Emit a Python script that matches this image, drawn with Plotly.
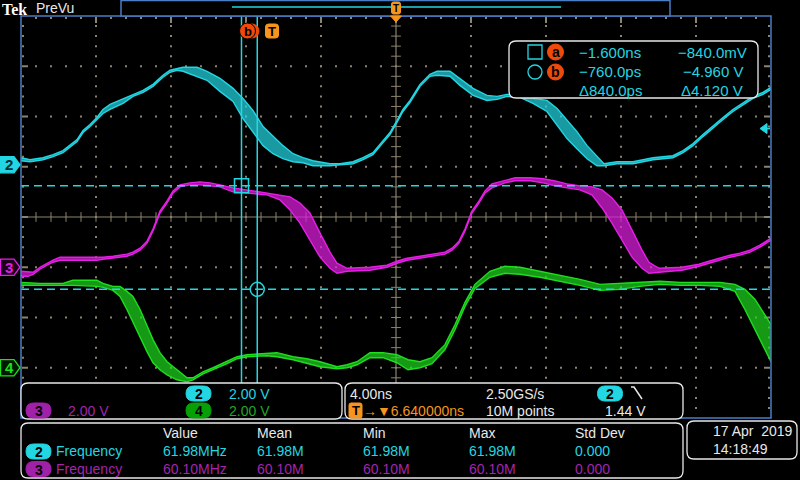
import numpy as np
import plotly.graph_objects as go

# ---------------- data ----------------
time_per_div_ns = 4.0
trigger_pos_ns = 6.64
volts_per_div = {2: 2.0, 3: 2.0, 4: 2.0}
ch_offset_div = {2: 1.04, 3: -1.0, 4: -3.0}
trig_level_v = 1.44
cursor_t_ns = [-1.6, -0.76]
cursor_v = [-0.84, -4.96]

ch2_t = [-13.36, -12.88, -12.19, -11.65, -11.12, -10.75, -10.37, -10.05, -9.68, -9.31, -8.99, -8.61, -8.24, -7.92,
         -7.39, -6.85, -6.32, -5.79, -5.41, -5.04, -4.72, -3.97, -3.44, -2.75, -2.05, -1.52, -0.99, -0.45, 0.08,
         0.61, 1.15, 1.68, 2.21, 3.12, 3.65, 4.35, 4.88, 5.41, 5.95, 6.32, 6.69, 7.01, 7.39, 7.92, 8.45, 8.83,
         9.52, 10.05, 10.75, 11.49, 12.03, 12.56, 13.25, 13.95, 14.69, 15.23, 15.76, 16.29, 16.83, 17.36, 17.73,
         18.43, 19.28, 20.35, 21.41, 21.95, 22.48, 23.01, 23.55, 24.08, 24.61, 25.15, 25.68, 26.21, 26.64]
ch2_hi = [0.28, 0.20, 0.28, 0.40, 0.56, 0.76, 1.00, 1.36, 1.60, 1.88, 2.20, 2.40, 2.52, 2.60,
          2.80, 2.96, 3.20, 3.56, 3.76, 3.84, 3.88, 3.88, 3.72, 3.44, 3.04, 2.64, 2.16, 1.52, 1.12,
          0.76, 0.44, 0.28, 0.16, 0.04, 0.04, 0.12, 0.28, 0.48, 0.96, 1.28, 1.76, 2.20, 2.56, 3.20, 3.60, 3.72,
          3.72, 3.44, 3.04, 2.76, 2.72, 2.80, 2.80, 2.64, 2.56, 2.24, 1.76, 1.32, 0.76, 0.32, 0.04,
          0.12, 0.12, 0.28, 0.36, 0.56, 0.84, 1.20, 1.56, 1.88, 2.20, 2.48, 2.72, 2.88, 3.08]
ch2_lo = [0.16, 0.12, 0.20, 0.32, 0.48, 0.68, 0.92, 1.28, 1.52, 1.80, 2.04, 2.20, 2.32, 2.44,
          2.72, 2.88, 3.12, 3.48, 3.68, 3.76, 3.72, 3.52, 3.36, 2.92, 2.52, 1.84, 1.32, 0.76, 0.44,
          0.24, 0.12, 0.08, -0.04, -0.04, 0.00, 0.04, 0.20, 0.40, 0.88, 1.20, 1.68, 2.12, 2.48, 3.12, 3.52, 3.56,
          3.52, 3.16, 2.76, 2.56, 2.60, 2.72, 2.68, 2.44, 2.12, 1.56, 1.04, 0.64, 0.24, -0.04, -0.04,
          0.04, 0.04, 0.20, 0.28, 0.48, 0.76, 1.12, 1.48, 1.80, 2.12, 2.40, 2.64, 2.80, 3.00]

ch3_t = [-13.36, -12.99, -12.72, -12.35, -11.97, -11.65, -11.28, -10.21, -9.31, -8.99, -8.45, -7.71, -7.39, -7.01,
         -6.64, -6.32, -6.11, -5.95, -5.57, -5.25, -4.88, -4.35, -3.81, -3.28, -2.75, -2.05, -0.99, -0.24, 0.45,
         0.99, 1.52, 2.05, 2.59, 3.12, 3.49, 4.03, 5.25, 6.16, 6.69, 7.23, 7.92, 8.72, 9.25, 9.63, 10.00, 10.32,
         10.53, 10.69, 11.07, 11.39, 11.76, 12.45, 12.99, 13.79, 14.48, 15.12, 15.76, 16.45, 17.09, 17.63, 18.16,
         18.69, 19.23, 19.76, 20.13, 20.67, 21.89, 22.80, 23.33, 23.87, 24.45, 24.99, 25.52, 26.05, 26.64]
ch3_hi = [-0.16, -0.20, -0.20, 0.00, 0.16, 0.28, 0.40, 0.40, 0.40, 0.40, 0.44, 0.52, 0.60, 0.76,
          1.04, 1.52, 1.92, 2.24, 2.64, 3.04, 3.28, 3.36, 3.40, 3.36, 3.28, 3.16, 3.04, 2.96, 2.88,
          2.80, 2.56, 2.16, 1.36, 0.60, 0.16, -0.04, 0.00, 0.08, 0.24, 0.36, 0.44, 0.52, 0.60, 0.76, 1.04, 1.52,
          1.92, 2.24, 2.64, 3.04, 3.32, 3.44, 3.56, 3.56, 3.52, 3.44, 3.32, 3.24, 3.20, 3.08, 2.76,
          2.28, 1.48, 0.68, 0.20, -0.04, 0.00, 0.12, 0.24, 0.36, 0.48, 0.56, 0.68, 0.88, 1.16]
ch3_lo = [-0.36, -0.36, -0.28, -0.08, 0.08, 0.20, 0.28, 0.28, 0.28, 0.32, 0.36, 0.44, 0.52, 0.68,
          0.96, 1.44, 1.84, 2.16, 2.56, 2.96, 3.20, 3.28, 3.28, 3.24, 3.20, 3.00, 2.92, 2.88, 2.68,
          2.28, 1.76, 1.08, 0.40, -0.04, -0.24, -0.16, -0.12, 0.00, 0.16, 0.28, 0.36, 0.44, 0.52, 0.68, 0.96, 1.44,
          1.84, 2.16, 2.56, 2.96, 3.16, 3.36, 3.44, 3.44, 3.36, 3.24, 3.16, 3.08, 2.88, 2.36, 1.76,
          1.08, 0.40, -0.04, -0.24, -0.20, -0.12, 0.04, 0.16, 0.28, 0.40, 0.48, 0.60, 0.80, 1.08]

ch4_t = [-13.36, -12.35, -11.12, -10.59, -9.31, -8.99, -8.45, -8.08, -7.71, -7.39, -7.01, -6.64, -6.32, -5.95,
         -5.57, -5.04, -4.51, -4.19, -3.65, -3.12, -2.37, -1.84, -1.31, -0.24, 0.29, 1.15, 1.89, 2.59, 3.49,
         4.03, 4.56, 5.25, 5.95, 6.69, 7.28, 7.92, 8.56, 9.25, 9.79, 10.32, 10.85, 11.65, 12.45, 13.25, 14.32,
         15.39, 16.45, 17.52, 18.59, 19.65, 20.72, 21.79, 22.85, 23.92, 24.72, 25.25, 25.79, 26.32, 26.64]
ch4_hi = [3.40, 3.36, 3.36, 3.48, 3.48, 3.36, 3.24, 3.24, 3.04, 2.84, 2.32, 1.64, 1.12, 0.60,
          0.24, -0.08, -0.40, -0.40, -0.16, 0.00, 0.24, 0.44, 0.52, 0.56, 0.60, 0.44, 0.36, 0.24, 0.04,
          0.12, 0.24, 0.60, 0.60, 0.52, 0.32, 0.24, 0.40, 0.92, 1.72, 2.60, 3.32, 3.84, 4.04, 4.00, 3.84,
          3.68, 3.52, 3.32, 3.36, 3.40, 3.44, 3.40, 3.40, 3.40, 3.32, 3.12, 2.72, 2.12, 1.72]
ch4_lo = [3.28, 3.28, 3.28, 3.28, 3.24, 3.20, 3.08, 2.84, 2.32, 1.80, 1.24, 0.64, 0.20, -0.08,
          -0.28, -0.48, -0.56, -0.48, -0.24, -0.08, 0.16, 0.36, 0.44, 0.48, 0.44, 0.32, 0.16, 0.04, -0.04,
          0.00, 0.12, 0.40, 0.40, 0.20, -0.08, 0.00, 0.16, 0.72, 1.52, 2.44, 3.16, 3.60, 3.76, 3.72, 3.60,
          3.44, 3.28, 3.08, 3.12, 3.24, 3.32, 3.28, 3.28, 3.24, 3.04, 2.32, 1.52, 0.72, 0.24]

meas_headers = ["Value", "Mean", "Min", "Max", "Std Dev"]
meas_ch2 = ["61.98MHz", "61.98M", "61.98M", "61.98M", "0.000"]
meas_ch3 = ["60.10MHz", "60.10M", "60.10M", "60.10M", "0.000"]
meas_name = "Frequency"
cursor_text = [["\u22121.600ns", "\u2212840.0mV"], ["\u2212760.0ps", "\u22124.960 V"], ["\u0394840.0ps", "\u03944.120 V"]]
date_text = "17 Apr\u00a0\u00a02019"
time_text = "14:18:49"

# ---------------- style ----------------
CYAN = "#22d6e2"
CYAN_FILL = "rgba(34,214,226,0.72)"
MAG = "#e61ee6"
MAG_FILL = "rgba(222,30,222,0.72)"
MAG_TXT = "#a424b0"
GRN = "#1ede1e"
GRN_FILL = "rgba(30,214,30,0.72)"
GRN_TXT = "#22a822"
GRN_PILL = "#06a006"
ORANGE = "#f7941d"
REDOR = "#f04a0a"
BLUE = "#4a7ec4"
TAN = "#8e836c"
WHITE = "#e8e8e8"
FONT = "Liberation Sans, Arial, sans-serif"

L, R, T, B = 21, 771, 16, 418
xmin = trigger_pos_ns - 5 * time_per_div_ns
xmax = trigger_pos_ns + 5 * time_per_div_ns


def X(px):
    return (px - L) / (R - L)


def Y(py):
    return (B - py) / (B - T)


def rrect(x0, y0, x1, y1, r):
    return (f"M {X(x0 + r)},{Y(y0)} L {X(x1 - r)},{Y(y0)} Q {X(x1)},{Y(y0)} {X(x1)},{Y(y0 + r)} "
            f"L {X(x1)},{Y(y1 - r)} Q {X(x1)},{Y(y1)} {X(x1 - r)},{Y(y1)} L {X(x0 + r)},{Y(y1)} "
            f"Q {X(x0)},{Y(y1)} {X(x0)},{Y(y1 - r)} L {X(x0)},{Y(y0 + r)} Q {X(x0)},{Y(y0)} {X(x0 + r)},{Y(y0)} Z")


shapes = []
annotations = []


def box(x0, y0, x1, y1, r=6, line=WHITE, fill="#000000", width=1.3):
    shapes.append(dict(type="path", xref="paper", yref="paper", path=rrect(x0, y0, x1, y1, r),
                       line=dict(color=line, width=width), fillcolor=fill, layer="above"))


def txt(s, x, y, color=WHITE, size=14, anchor="left", family=FONT, xref="paper", yref="paper"):
    annotations.append(dict(text=s, x=X(x) if xref == "paper" else x, y=Y(y) if yref == "paper" else y,
                            xref=xref, yref=yref, xanchor=anchor, yanchor="middle", showarrow=False,
                            font=dict(color=color, size=size, family=family), borderpad=0))


def pill(cx, cy, label, fill, w=25, h=15, tcolor="#000000"):
    box(cx - w / 2, cy - h / 2, cx + w / 2, cy + h / 2, r=h / 2, line=fill, fill=fill, width=1)
    txt(f"<b>{label}</b>", cx, cy + 0.5, tcolor, 14, "center")


fig = go.Figure()

# ---------------- graticule ----------------
minor_x = np.linspace(xmin, xmax, 51)
minor_y = np.linspace(-4, 4, 41)
major_x = [xmin + k * time_per_div_ns for k in range(1, 10) if k != 5]
major_y = [k for k in range(-3, 4) if k != 0]
gx, gy = [], []
for mx in major_x:
    gx += [mx] * 39
    gy += list(minor_y[1:-1])
for my in major_y:
    gx += list(minor_x[1:-1])
    gy += [my] * 49
# edge ticks
dx = 0.8 * 2 / 15
dy = 0.2 * 2 / 10
for yy in minor_y[1:-1]:
    gx += [xmin + dx, xmax - dx]
    gy += [yy, yy]
for yy in range(-3, 4):
    gx += [xmin + 2 * dx, xmin + 3 * dx, xmax - 2 * dx, xmax - 3 * dx]
    gy += [yy] * 4
for xx in minor_x[1:-1]:
    gx += [xx]
    gy += [4 - dy]
for k in range(1, 10):
    gx += [xmin + k * time_per_div_ns] * 2
    gy += [4 - 2 * dy, 4 - 3 * dy]
fig.add_trace(go.Scatter(x=gx, y=gy, mode="markers", hoverinfo="skip",
                         marker=dict(symbol="square", size=2, color=TAN, line=dict(width=0))))
# center line ticks
fig.add_trace(go.Scatter(x=list(minor_x[1:-1]), y=[0] * 49, mode="markers", hoverinfo="skip",
                         marker=dict(symbol="line-ns", size=7, line=dict(color=TAN, width=1))))
fig.add_trace(go.Scatter(x=[trigger_pos_ns] * 39, y=list(minor_y[1:-1]), mode="markers", hoverinfo="skip",
                         marker=dict(symbol="line-ew", size=7, line=dict(color=TAN, width=1))))
shapes.append(dict(type="line", xref="paper", yref="y", x0=0, x1=1, y0=0, y1=0,
                   line=dict(color=TAN, width=1.2), layer="below"))
shapes.append(dict(type="line", xref="x", yref="paper", x0=trigger_pos_ns, x1=trigger_pos_ns, y0=0, y1=1,
                   line=dict(color=TAN, width=1.2), layer="below"))

# ---------------- waveforms ----------------
def add_band(t, hi, lo, ch, color, fill):
    off = ch_offset_div[ch]
    s = volts_per_div[ch]
    fig.add_trace(go.Scatter(x=t, y=[off + v / s for v in lo], mode="lines", hoverinfo="skip",
                             line=dict(color=color, width=1.4)))
    fig.add_trace(go.Scatter(x=t, y=[off + v / s for v in hi], mode="lines", hoverinfo="skip",
                             line=dict(color=color, width=1.4), fill="tonexty", fillcolor=fill))


add_band(ch4_t, ch4_hi, ch4_lo, 4, GRN, GRN_FILL)
add_band(ch3_t, ch3_hi, ch3_lo, 3, MAG, MAG_FILL)
add_band(ch2_t, ch2_hi, ch2_lo, 2, CYAN, CYAN_FILL)

# ---------------- cursors ----------------
cur_y = [ch_offset_div[2] + v / volts_per_div[2] for v in cursor_v]
for cy in cur_y:
    shapes.append(dict(type="line", xref="paper", yref="y", x0=0, x1=1, y0=cy, y1=cy,
                       line=dict(color=CYAN, width=1.5, dash="8px,5px"), layer="above"))
for ct in cursor_t_ns:
    shapes.append(dict(type="line", xref="x", yref="paper", x0=ct, x1=ct, y0=Y(383), y1=1,
                       line=dict(color=CYAN, width=1.5), layer="above"))
fig.add_trace(go.Scatter(x=[cursor_t_ns[0]], y=[cur_y[0]], mode="markers", hoverinfo="skip", cliponaxis=False,
                         marker=dict(symbol="square-open", size=14, color=CYAN, line=dict(width=1.5, color=CYAN))))
fig.add_trace(go.Scatter(x=[cursor_t_ns[1]], y=[cur_y[1]], mode="markers", hoverinfo="skip", cliponaxis=False,
                         marker=dict(symbol="circle-open", size=14, color=CYAN, line=dict(width=1.5, color=CYAN))))

# graticule border
shapes.append(dict(type="rect", xref="paper", yref="paper", x0=0, x1=1, y0=0, y1=1,
                   line=dict(color=BLUE, width=1.5), layer="above"))

# ---------------- top bar ----------------
txt("<b>Tek</b>", 1, 9.5, "#ffffff", 16, "left", "Liberation Serif, serif")
txt("PreVu", 35, 8.5, WHITE, 14)
box(121, 0.5, 670, 16, r=0, line=BLUE, fill="#000000", width=1.5)
shapes.append(dict(type="line", xref="paper", yref="paper", x0=X(232), x1=X(561), y0=Y(7), y1=Y(7),
                   line=dict(color=CYAN, width=1.5), layer="above"))
box(391.5, 2, 400.5, 14, r=2, line=ORANGE, fill=ORANGE, width=1)
txt("<b>T</b>", 396, 8.5, "#000000", 10, "center")
shapes.append(dict(type="path", xref="paper", yref="paper",
                   path=f"M {X(390.5)},{Y(16)} L {X(401.5)},{Y(16)} L {X(396)},{Y(22)} Z",
                   line=dict(color=ORANGE, width=1), fillcolor=ORANGE, layer="above"))
# cursor badges
shapes.append(dict(type="circle", xref="paper", yref="paper", x0=X(245), x1=X(259), y0=Y(24), y1=Y(38),
                   line=dict(color=REDOR, width=1), fillcolor=REDOR, layer="above"))
shapes.append(dict(type="circle", xref="paper", yref="paper", x0=X(239.5), x1=X(255.5), y0=Y(23), y1=Y(39),
                   line=dict(color="#000000", width=1), fillcolor=REDOR, layer="above"))
txt("<b>b</b>", 247.5, 31, "#000000", 13, "center")
box(265.5, 24, 278.5, 38, r=3, line=ORANGE, fill=ORANGE, width=1)
txt("<b>T</b>", 272, 31, "#000000", 13, "center")

# ---------------- cursor readout ----------------
box(509, 41, 758, 98, r=7)
shapes.append(dict(type="rect", xref="paper", yref="paper", x0=X(528), x1=X(542), y0=Y(45), y1=Y(59),
                   line=dict(color=CYAN, width=1.3), layer="above"))
shapes.append(dict(type="circle", xref="paper", yref="paper", x0=X(528), x1=X(542), y0=Y(65), y1=Y(79),
                   line=dict(color=CYAN, width=1.3), layer="above"))
for cy, lab in [(52, "a"), (72, "b")]:
    shapes.append(dict(type="circle", xref="paper", yref="paper", x0=X(547.5), x1=X(563.5), y0=Y(cy - 8),
                       y1=Y(cy + 8), line=dict(color=REDOR, width=1), fillcolor=REDOR, layer="above"))
    txt(f"<b>{lab}</b>", 555.5, cy, "#000000", 14, "center")
for row, cy in zip(cursor_text, [52, 71, 90]):
    txt(row[0], 578, cy, CYAN, 15)
    txt(row[1], 748 if row[1].endswith("mV") else 744, cy, CYAN, 15, "right")

# trigger level arrow
lvl = ch_offset_div[2] + trig_level_v / volts_per_div[2]
shapes.append(dict(type="path", xref="paper", yref="y",
                   path=f"M {X(760)},{lvl} L {X(767)},{lvl + 0.1} L {X(767)},{lvl - 0.1} Z",
                   line=dict(color=CYAN, width=1), fillcolor=CYAN, layer="above"))
shapes.append(dict(type="line", xref="paper", yref="y", x0=X(766), x1=X(770), y0=lvl, y1=lvl,
                   line=dict(color=CYAN, width=1.5), layer="above"))

# channel ground markers
for ch, edge, fill, tcol in [(2, CYAN, CYAN, "#04303a"), (3, MAG, "#1a001a", MAG), (4, GRN, "#001a00", GRN)]:
    off = ch_offset_div[ch]
    h = 0.16
    shapes.append(dict(type="path", xref="paper", yref="y",
                       path=(f"M {X(0.5)},{off + h} L {X(14)},{off + h} L {X(20)},{off} "
                             f"L {X(14)},{off - h} L {X(0.5)},{off - h} Z"),
                       line=dict(color=edge, width=1.3), fillcolor=fill, layer="above"))
    annotations.append(dict(text=f"<b>{ch}</b>", x=X(9), y=off, xref="paper", yref="y", xanchor="center",
                            yanchor="middle", showarrow=False, font=dict(color=tcol, size=15, family=FONT)))

# ---------------- bottom boxes ----------------
box(21, 383, 342, 419, r=7)
pill(198.5, 393.5, "2", CYAN)
txt("2.00 V", 228, 393.5, CYAN)
pill(38.5, 410.5, "3", "#a020a8")
txt("2.00 V", 67, 410.5, MAG_TXT)
pill(198.5, 410.5, "4", GRN_PILL)
txt("2.00 V", 228, 410.5, GRN_TXT)

box(345, 383, 683, 419, r=7)
txt("4.00ns", 349, 393.5, WHITE)
txt("2.50GS/s", 485, 393.5, WHITE)
pill(610, 393.5, "2", CYAN)
shapes.append(dict(type="path", xref="paper", yref="paper",
                   path=f"M {X(631)},{Y(387)} L {X(634)},{Y(387)} L {X(642)},{Y(399)}",
                   line=dict(color=WHITE, width=1.5), layer="above"))
box(349, 403, 362, 418, r=2, line=ORANGE, fill=ORANGE, width=1)
txt("<b>T</b>", 355.5, 410.5, "#000000", 13, "center")
txt("\u2192\u25bc6.640000ns", 362, 410.5, ORANGE)
txt("10M points", 485, 410.5, WHITE)
txt("1.44 V", 604, 410.5, WHITE)

box(21, 423, 683, 478, r=7)
col_x = [162, 256, 362, 468, 574]
for cx, hd in zip(col_x, meas_headers):
    txt(hd, cx, 433, WHITE)
pill(38.5, 451.5, "2", CYAN)
txt(meas_name, 55, 451.5, CYAN)
pill(38.5, 469, "3", "#a020a8")
txt(meas_name, 55, 469, MAG_TXT)
for cx, a, b in zip(col_x, meas_ch2, meas_ch3):
    txt(a, cx, 451.5, CYAN)
    txt(b, cx, 469, MAG_TXT)

box(687, 421, 797, 459, r=7)
txt(date_text, 712, 430.5, WHITE)
txt(time_text, 712, 448.5, WHITE)

fig.update_layout(
    width=800, height=480, margin=dict(l=L, r=800 - R, t=T, b=480 - B),
    paper_bgcolor="#000000", plot_bgcolor="#000000", showlegend=False,
    xaxis=dict(range=[xmin, xmax], visible=False, showgrid=False, zeroline=False),
    yaxis=dict(range=[-4, 4], visible=False, showgrid=False, zeroline=False),
    shapes=shapes, annotations=annotations,
)
fig.write_html("out.html", config={"displayModeBar": False},
               post_script="document.body.style.margin='0px';document.body.style.background='#000';")
